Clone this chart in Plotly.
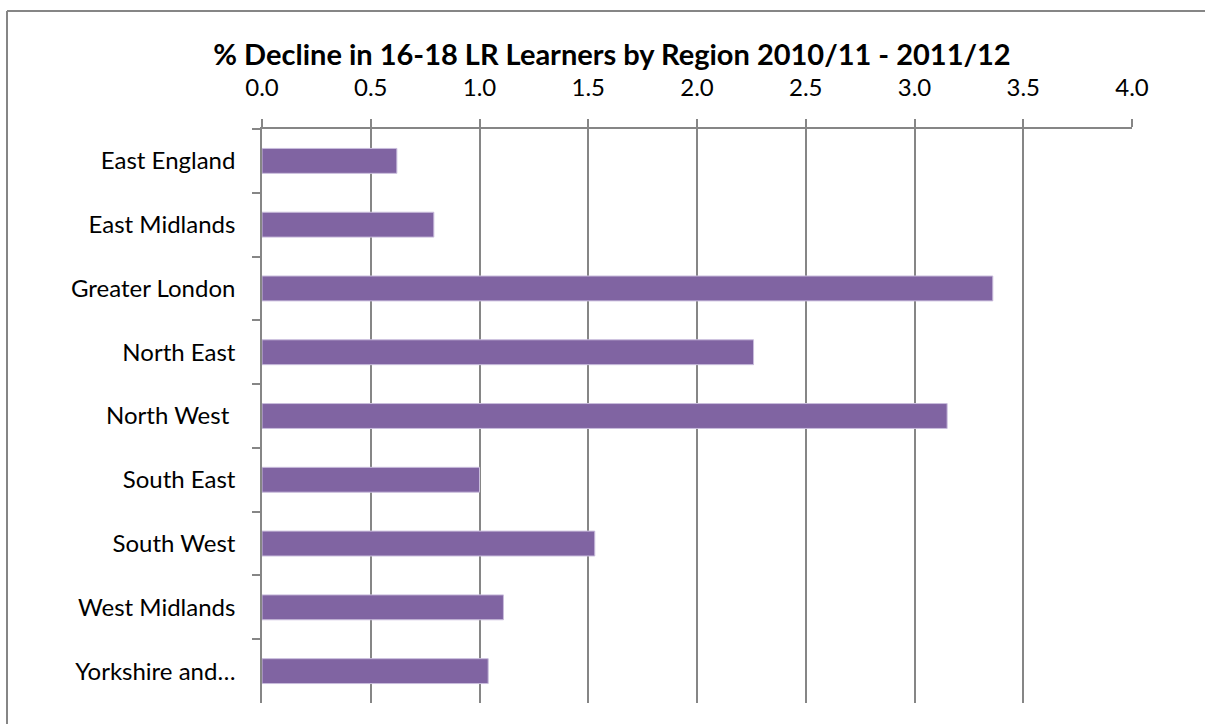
import plotly.graph_objects as go

regions = ["East England", "East Midlands", "Greater London", "North East",
           "North West ", "South East", "South West", "West Midlands", "Yorkshire and…"]
decline = [0.62, 0.79, 3.36, 2.26, 3.15, 1.00, 1.53, 1.11, 1.04]
x_ticks = [0.0, 0.5, 1.0, 1.5, 2.0, 2.5, 3.0, 3.5, 4.0]
title_text = "% Decline in 16-18 LR Learners by Region 2010/11 - 2011/12"

grey = "#868686"
font_family = "Lato, 'Open Sans', sans-serif"

W, H = 1205, 724
L, R, T, B = 262, 73, 129, 21
pw, ph = W - L - R, H - T - B

fig = go.Figure(go.Bar(
    x=decline, y=regions, orientation="h",
    marker=dict(color="#8064A2", line=dict(color="#C9BDDC", width=1)),
))

fig.update_layout(
    width=W, height=H,
    margin=dict(l=L, r=R, t=T, b=B),
    paper_bgcolor="white", plot_bgcolor="white",
    bargap=0.61, showlegend=False,
    font=dict(family=font_family, size=24, color="black"),
    title=dict(text="<b>" + title_text + "</b>", xref="container", x=612 / W,
               yref="container", y=1 - 55 / H, yanchor="middle", xanchor="center",
               font=dict(family=font_family, size=29, color="black")),
    shapes=[
        dict(type="line", xref="paper", yref="paper",
             x0=(7 - L) / pw, x1=(W - L) / pw,
             y0=1 + (T - 11) / ph, y1=1 + (T - 11) / ph,
             line=dict(color=grey, width=2)),
        dict(type="line", xref="paper", yref="paper",
             x0=(7 - L) / pw, x1=(7 - L) / pw,
             y0=1 + (T - 11) / ph, y1=-0.1,
             line=dict(color=grey, width=2)),
    ],
)

fig.update_xaxes(
    side="top", range=[0, 4], tickvals=x_ticks,
    ticktext=[f"{v:.1f}" for v in x_ticks],
    showgrid=True, gridcolor=grey, gridwidth=1.5,
    showline=True, linecolor=grey, linewidth=1.5,
    ticks="outside", ticklen=8, tickcolor=grey, tickwidth=1.5,
    zeroline=False, ticklabelstandoff=14,
)
fig.update_yaxes(
    autorange="reversed", showline=True, linecolor=grey, linewidth=1.5,
    ticks="outside", ticklen=8, tickcolor=grey, tickwidth=1.5,
    tickson="boundaries", showgrid=False, ticklabelstandoff=20,
)

fig.write_html(
    "out.html",
    config={"displayModeBar": False},
    post_script="document.body.style.margin='0';document.body.style.overflow='hidden';",
)
